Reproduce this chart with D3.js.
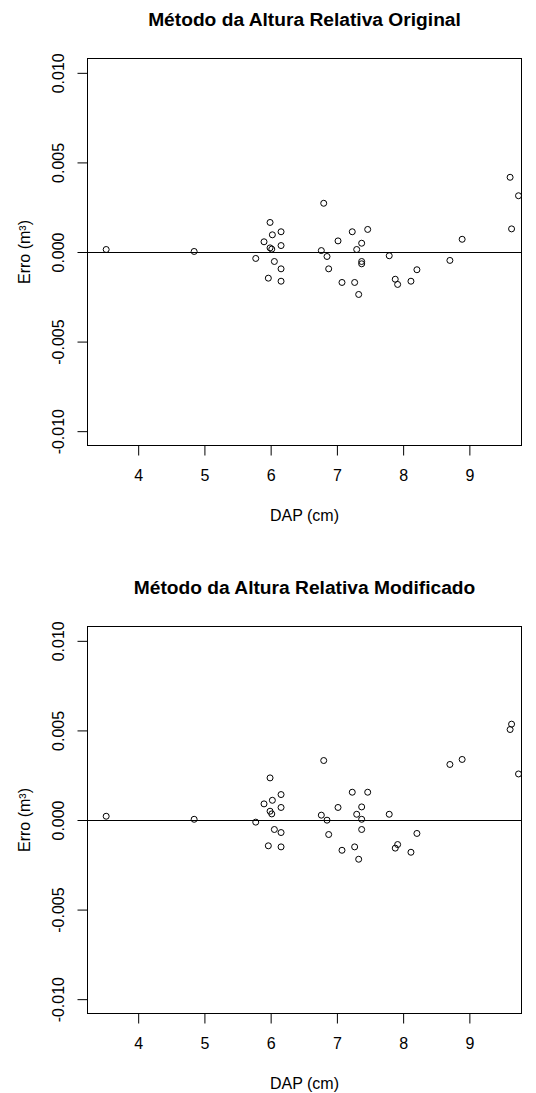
<!DOCTYPE html>
<html>
<head>
<meta charset="utf-8">
<script src="https://cdn.jsdelivr.net/npm/d3@7"></script>
<style>
body { margin: 0; background: #fff; }
text { font-family: "Liberation Sans", Arial, sans-serif; fill: #000; }
</style>
</head>
<body>
<script>
var width = 536,
    height = 1093;

// DAP (cm) of each tree, shared by both panels
var dap = [3.517, 4.845, 5.775, 5.900, 5.965, 5.991, 5.991, 6.017, 6.026, 6.056,
    6.157, 6.157, 6.157, 6.157, 6.765, 6.801, 6.851, 6.876, 7.017, 7.077,
    7.232, 7.268, 7.299, 7.329, 7.374, 7.374, 7.374, 7.465, 7.790, 7.881,
    7.917, 8.118, 8.208, 8.706, 8.891, 9.615, 9.637, 9.742];

// erro (m3) - metodo original
var erroOriginal = [0.00014, 0.00003, -0.00036, 0.00057, -0.00146, 0.00165, 0.00023, 0.00016, 0.00096, -0.00053,
    0.00113, 0.00036, -0.00094, -0.00163, 0.00008, 0.00272, -0.00025, -0.00094, 0.00062, -0.00170,
    0.00113, -0.00170, 0.00014, -0.00237, 0.00049, -0.00053, -0.00066, 0.00126, -0.00021, -0.00152,
    -0.00181, -0.00163, -0.00099, -0.00047, 0.00071, 0.00417, 0.00129, 0.00314];

// erro (m3) - metodo modificado
var erroModificado = [0.00021, 0.00004, -0.00012, 0.00090, -0.00144, 0.00235, 0.00049, 0.00034, 0.00110, -0.00053,
    0.00142, 0.00070, -0.00070, -0.00150, 0.00027, 0.00332, -0.00001, -0.00081, 0.00070, -0.00169,
    0.00155, -0.00150, 0.00032, -0.00219, 0.00073, 0.00004, -0.00053, 0.00155, 0.00032, -0.00157,
    -0.00137, -0.00180, -0.00075, 0.00310, 0.00338, 0.00505, 0.00535, 0.00257];

var xTicks = [4, 5, 6, 7, 8, 9];
var yTicks = [-0.010, -0.005, 0.000, 0.005, 0.010];
var xLim = [3.235, 9.787];
var yLim = [-0.0108, 0.0108];

var titles = ["Método da Altura Relativa Original", "Método da Altura Relativa Modificado"];

var plot = { left: 87.5, right: 521.5, top: 58.5, h: 387 };
var panelStep = 568;

var svg = d3.select("body").append("svg")
    .attr("width", width)
    .attr("height", height);

var x = d3.scaleLinear().domain(xLim).range([plot.left, plot.right]);

function drawPanel(i, erro) {
    var top = plot.top + panelStep * i,
        bottom = top + plot.h;
    var y = d3.scaleLinear().domain(yLim).range([bottom, top]);
    var g = svg.append("g");

    g.append("text")
        .attr("x", (plot.left + plot.right) / 2)
        .attr("y", top - 32.5)
        .attr("text-anchor", "middle")
        .style("font-size", "19.2px")
        .style("font-weight", "bold")
        .text(titles[i]);

    // eixo x
    var xAxis = d3.axisBottom(x).tickValues(xTicks).tickSize(10).tickSizeOuter(0).tickPadding(14)
        .tickFormat(d3.format("d"));
    var gx = g.append("g").attr("transform", "translate(0," + bottom + ")").call(xAxis);
    gx.select(".domain").remove();
    gx.selectAll("text").style("font-size", "16px").style("font-family", null);

    // eixo y, rotulos girados como no R
    var yAxis = d3.axisLeft(y).tickValues(yTicks).tickSize(10).tickSizeOuter(0)
        .tickFormat(function (d) { return d.toFixed(3); });
    var gy = g.append("g").attr("transform", "translate(" + plot.left + ",0)").call(yAxis);
    gy.select(".domain").remove();
    gy.selectAll("text")
        .attr("transform", "rotate(-90)")
        .attr("x", 0)
        .attr("y", -23.5)
        .attr("dy", 0)
        .style("text-anchor", "middle")
        .style("font-size", "16px")
        .style("font-family", null);

    g.selectAll(".tick line").attr("stroke", "#000");

    g.append("text")
        .attr("transform", "translate(30," + (top + bottom) / 2 + ") rotate(-90)")
        .attr("text-anchor", "middle")
        .style("font-size", "16px")
        .text("Erro (m³)");

    g.append("text")
        .attr("x", (plot.left + plot.right) / 2)
        .attr("y", bottom + 75.5)
        .attr("text-anchor", "middle")
        .style("font-size", "16px")
        .text("DAP (cm)");

    // linha do zero
    g.append("line")
        .attr("x1", plot.left).attr("x2", plot.right)
        .attr("y1", Math.round(y(0)) + 0.5).attr("y2", Math.round(y(0)) + 0.5)
        .attr("stroke", "#000");

    g.selectAll("circle")
        .data(dap)
        .enter().append("circle")
        .attr("cx", function (d) { return x(d); })
        .attr("cy", function (d, j) { return y(erro[j]); })
        .attr("r", 3)
        .attr("fill", "none")
        .attr("stroke", "#000")
        .attr("stroke-width", 1);

    g.append("rect")
        .attr("x", plot.left).attr("y", top)
        .attr("width", plot.right - plot.left).attr("height", plot.h)
        .attr("fill", "none")
        .attr("stroke", "#000");
}

drawPanel(0, erroOriginal);
drawPanel(1, erroModificado);
</script>
</body>
</html>
